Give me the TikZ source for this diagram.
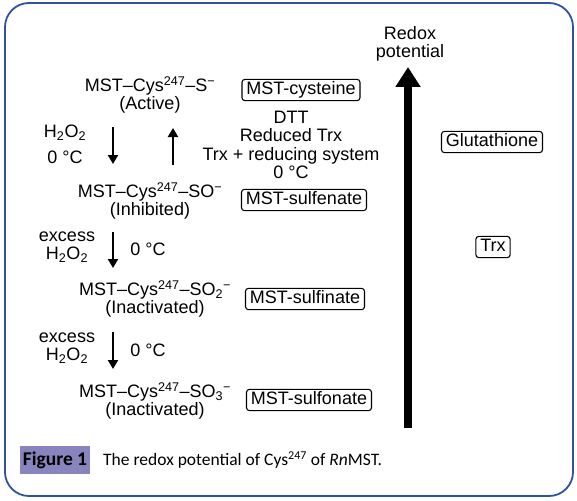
\documentclass[tikz,border=0pt]{standalone}
\usepackage{fontspec}
\setmainfont{Liberation Sans}
\newfontfamily\capfont{Carlito}
\usetikzlibrary{arrows.meta}
\definecolor{framec}{HTML}{3050A0}
\definecolor{figbox}{HTML}{8884BE}
\newcommand{\mstcys}[1]{MST--Cys\textsuperscript{247}--#1}
\newcommand{\hho}{H\textsubscript{2}O\textsubscript{2}}

\begin{document}
\begin{tikzpicture}[x=1pt,y=-1pt,
  every node/.style={font=\fontsize{18}{18.3}\selectfont,inner sep=0pt},
  formbox/.style={draw,rounded corners=3pt,line width=1.1pt,inner xsep=4.5pt,inner ysep=2.5pt,text height=12.8pt,text depth=3.5pt},
  rxn/.style={line width=2.6pt,-{Triangle[width=10pt,length=9pt]}}]
  \useasboundingbox (0,0) rectangle (577,500);
  \draw[framec,line width=1.8pt,rounded corners=24pt] (5,3) rectangle (573,496);
  % species on the left
  \node[align=center] (act) at (150,95) {\mstcys{S\textsuperscript{−}}\\(Active)};
  \node[align=center] (inh) at (150,201) {\mstcys{SO\textsuperscript{−}}\\(Inhibited)};
  \node[align=center] (ina) at (155,299) {\mstcys{SO\textsubscript{2}\textsuperscript{−}}\\(Inactivated)};
  \node[align=center] (inb) at (155,401) {\mstcys{SO\textsubscript{3}\textsuperscript{−}}\\(Inactivated)};
  % names in boxes
  \foreach \nm/\xx/\yy/\txt in {cysb/301/90/MST-cysteine, sfeb/304/200/MST-sulfenate,
      sfib/305/299/MST-sulfinate, sfob/309/400/MST-sulfonate,
      glut/492/142/Glutathione, trx/493/247/Trx}
    \node[formbox] (\nm) at (\xx,\yy) {\txt};
  % conditions
  \node (c1a) at (65,133) {\hho};
  \node (c1b) at (65,157) {0 °C};
  \node[align=center] (red) at (291,145) {DTT\\Reduced Trx\\Trx + reducing system\\0 °C};
  \node[align=center] (c2a) at (67,247) {excess\\\hho};
  \node (c2b) at (148,249) {0 °C};
  \node[align=center] (c3a) at (67,348) {excess\\\hho};
  \node (c3b) at (148,350) {0 °C};
  % reaction arrows
  \coordinate (d1s) at (113,127); \coordinate (d1e) at (113,164);
  \coordinate (u1s) at (173,165); \coordinate (u1e) at (173,128);
  \coordinate (d2s) at (113,232); \coordinate (d2e) at (113,268);
  \coordinate (d3s) at (113,332); \coordinate (d3e) at (113,369);
  \draw[rxn] (d1s) -- (d1e);
  \draw[rxn] (u1s) -- (u1e);
  \draw[rxn] (d2s) -- (d2e);
  \draw[rxn] (d3s) -- (d3e);
  % redox axis
  \node[align=center] (rlbl) at (410,44) {Redox\\potential};
  \coordinate (rbot) at (408,428);
  \coordinate (rtop) at (408,67);
  \draw[line width=8pt,-{Triangle[width=24pt,length=20pt]}] (rbot) -- (rtop);
  % caption
  \node[fill=figbox,minimum width=70pt,minimum height=28pt,font=\capfont\bfseries\fontsize{19.5}{22}\selectfont] (figlbl) at (55,460) {Figure 1};
  \node[anchor=west,font=\capfont\fontsize{17.5}{22}\selectfont] (figcap) at (103,460) {The redox potential of Cys\textsuperscript{\fontsize{12}{12}\selectfont 247} of \textit{Rn}MST.};
\end{tikzpicture}
\end{document}
